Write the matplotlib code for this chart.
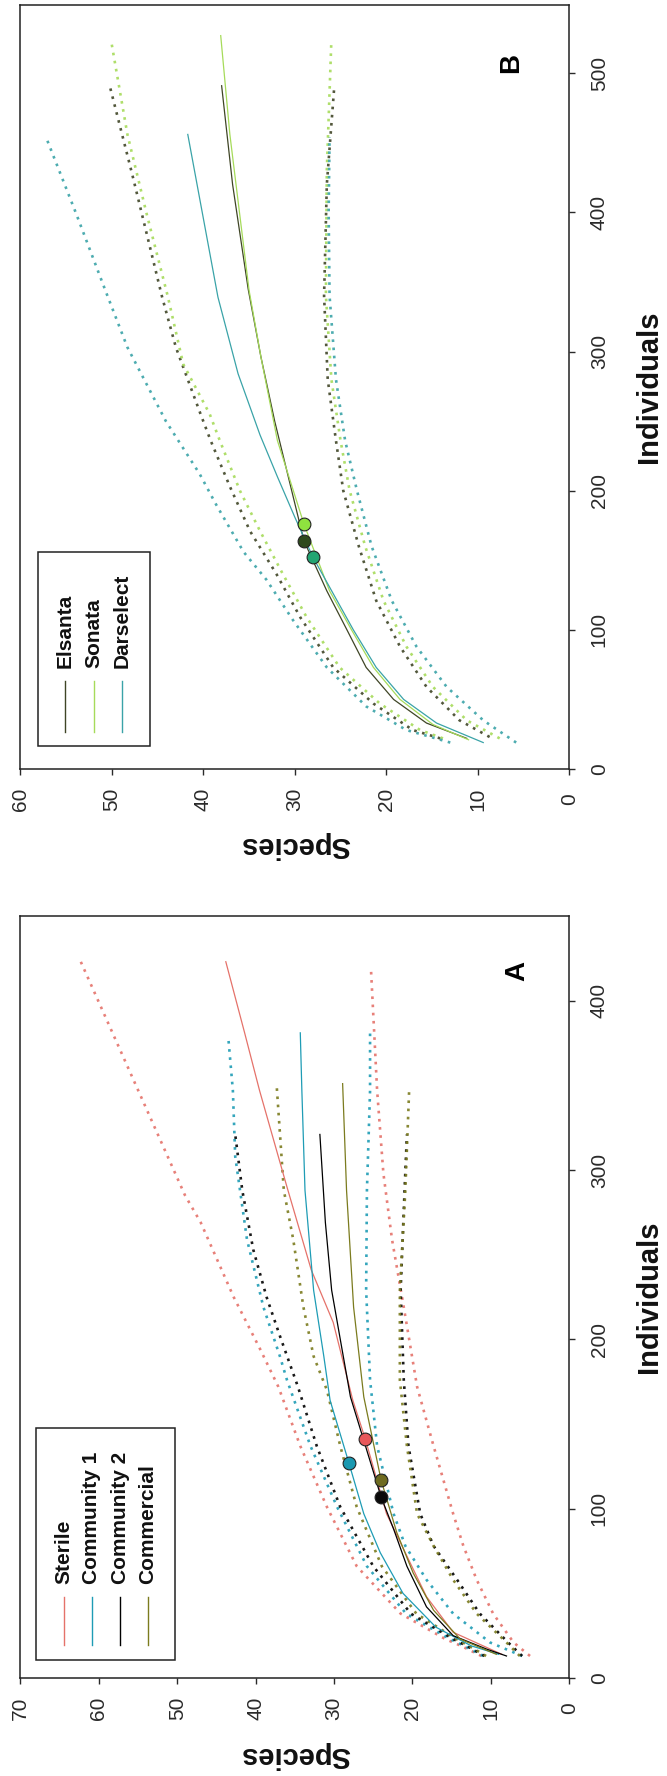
import matplotlib
matplotlib.use('Agg')
import matplotlib.pyplot as plt
from matplotlib.patches import Rectangle
from matplotlib.lines import Line2D

plt.rcParams['font.family'] = ['Liberation Sans', 'DejaVu Sans']

# ---- panel A: (individuals, species) ----
sterile_est = [(14, 8.6), (27, 14.8), (48, 18.2), (72, 20.7), (97, 23.3), (141, 26.0), (164, 27.6),
               (210, 30.1), (241, 32.9), (290, 36.0), (347, 39.5), (381, 41.4), (423, 43.8)]
sterile_hi = [(13, 11.2), (19, 13.8), (23, 15.8), (38, 21.5), (66, 27.1), (101, 30.9), (137, 34.3),
              (172, 37.1), (194, 39.4), (225, 42.8), (269, 47.0), (285, 49.0), (423, 62.3)]
sterile_lo = [(13, 5.0), (21, 7.1), (38, 9.7), (58, 11.8), (78, 13.5), (97, 14.8), (137, 17.3),
              (172, 19.4), (219, 21.1), (259, 22.6), (298, 23.7), (347, 24.5), (420, 25.3)]
sterile_obs = (141, 26.0)

comm1_est = [(14, 9.0), (19, 12.5), (30, 17.0), (50, 21.2), (74, 24.1), (97, 26.2), (127, 28.1),
             (164, 30.5), (190, 31.3), (229, 32.6), (288, 33.7), (347, 34.1), (381, 34.3)]
comm1_hi = [(13, 11.0), (19, 13.4), (23, 15.2), (38, 20.8), (66, 25.8), (101, 29.6), (137, 33.0),
            (176, 36.0), (190, 36.9), (219, 39.0), (259, 41.1), (308, 42.6), (347, 42.9), (379, 43.5)]
comm1_lo = [(13, 6.0), (21, 10.1), (38, 14.8), (58, 18.2), (78, 20.9), (97, 22.4), (137, 24.5),
            (176, 25.4), (229, 25.9), (288, 25.8), (347, 25.4), (381, 25.4)]
comm1_obs = (127, 28.1)

comm2_est = [(13, 8.0), (17, 10.5), (25, 14.8), (42, 18.2), (66, 20.7), (88, 22.4), (107, 24.0),
             (166, 27.9), (200, 29.2), (229, 30.3), (269, 31.1), (321, 31.8)]
comm2_hi = [(13, 10.8), (19, 13.1), (23, 14.8), (38, 20.2), (66, 25.0), (101, 29.2), (137, 32.2),
            (172, 34.6), (202, 36.9), (225, 38.6), (253, 40.3), (288, 41.7), (321, 42.6)]
comm2_lo = [(13, 6.0), (21, 7.8), (38, 11.4), (58, 14.3), (78, 17.3), (97, 19.0), (137, 20.5),
            (176, 21.1), (229, 21.5), (288, 21.0), (321, 20.7)]
comm2_obs = (107, 24.0)

commercial_est = [(14, 9.3), (23, 13.9), (40, 17.3), (62, 19.9), (86, 22.0), (117, 24.0),
                  (166, 26.2), (219, 27.5), (288, 28.4), (351, 28.9)]
commercial_hi = [(13, 10.6), (19, 12.8), (23, 14.4), (38, 19.5), (66, 23.9), (101, 27.1), (137, 29.2),
                 (170, 30.9), (190, 32.6), (219, 33.9), (259, 35.2), (288, 36.4), (349, 37.3)]
commercial_lo = [(13, 6.3), (21, 8.0), (38, 11.8), (58, 14.8), (78, 17.3), (97, 19.4), (137, 20.7),
                 (176, 21.6), (229, 21.6), (288, 20.9), (349, 20.4)]
commercial_obs = (117, 24.0)

# ---- panel B ----
elsanta_est = [(22, 11.2), (33, 15.6), (50, 19.2), (73, 22.2), (100, 24.3), (128, 26.5), (164, 29.0),
               (207, 30.6), (250, 32.2), (296, 33.7), (345, 35.1), (420, 36.8), (491, 38.0)]
elsanta_hi = [(22, 14.1), (28, 17.1), (47, 21.4), (73, 25.8), (109, 29.4), (140, 32.0), (171, 34.9),
              (203, 37.1), (236, 39.2), (255, 40.3), (303, 43.0), (339, 44.5), (428, 47.8), (490, 50.2)]
elsanta_lo = [(23, 8.7), (35, 12.0), (59, 15.6), (88, 18.5), (121, 21.1), (160, 23.0), (200, 24.7),
              (236, 25.5), (280, 26.4), (340, 26.8), (420, 26.5), (489, 25.7)]
elsanta_obs = (164, 29.0)

sonata_est = [(21, 11.0), (32, 14.9), (50, 18.5), (73, 21.4), (100, 23.8), (128, 26.2), (176, 29.0),
              (236, 31.9), (296, 33.7), (344, 35.0), (456, 37.1), (527, 38.1)]
sonata_hi = [(22, 13.8), (28, 16.3), (47, 20.7), (73, 25.1), (109, 28.7), (140, 31.3), (171, 33.8),
             (200, 36.0), (236, 38.2), (255, 39.3), (291, 42.2), (340, 43.9), (399, 46.2), (456, 48.3),
             (524, 50.1)]
sonata_lo = [(22, 7.6), (35, 11.2), (59, 14.9), (88, 17.8), (121, 20.3), (160, 22.3), (200, 24.0),
             (236, 25.0), (280, 26.0), (340, 26.6), (430, 26.5), (524, 26.0)]
sonata_obs = (176, 29.0)

darselect_est = [(19, 9.4), (33, 14.5), (50, 18.1), (73, 21.1), (100, 23.6), (126, 25.8), (152, 28.0),
                 (181, 30.0), (210, 31.9), (240, 33.8), (284, 36.2), (339, 38.4), (456, 41.7)]
darselect_hi = [(19, 13.0), (28, 17.8), (45, 22.2), (73, 26.5), (107, 30.2), (136, 33.1), (156, 35.6),
                (190, 38.6), (212, 40.4), (250, 44.1), (303, 48.3), (342, 50.6), (399, 53.9), (454, 57.2)]
darselect_lo = [(19, 5.8), (35, 9.4), (59, 13.4), (88, 16.7), (121, 19.4), (160, 21.6), (200, 23.2),
                (236, 24.5), (280, 25.5), (340, 26.2), (400, 26.3), (454, 26.2)]
darselect_obs = (152, 28.0)

labels_A = ['Sterile', 'Community 1', 'Community 2', 'Commercial']
labels_B = ['Elsanta', 'Sonata', 'Darselect']

W, H = 667, 1776
fig = plt.figure(figsize=(W / 100, H / 100), dpi=100)


def fx(px):
    return px / W


def fy(py):
    return 1 - py / H


def sp(pts):  # species goes on x, individuals on y (figure is turned)
    return [p[1] for p in pts], [p[0] for p in pts]


def panel(box, series, smax, nmax, nticks):
    ax = fig.add_axes([fx(box[0]), fy(box[3]), (box[2] - box[0]) / W, (box[3] - box[1]) / H])
    for est, lo, hi, obs, col, pcol in series:
        for ci in (lo, hi):
            ax.plot(*sp(ci), color=col, lw=1.9, ls=(0, (1, 2.1)), alpha=0.9, zorder=2)
    for est, lo, hi, obs, col, pcol in series:
        ax.plot(*sp(est), color=col, lw=0.9, zorder=3)
    for est, lo, hi, obs, col, pcol in series:
        ax.plot(obs[1], obs[0], 'o', ms=9.2, mfc=pcol, mec='#222222', mew=0.8, zorder=4)
    ax.set_xlim(smax, 0)
    ax.set_ylim(0, nmax)
    ax.yaxis.tick_right()
    st = list(range(0, smax + 1, 10))
    ax.set_xticks(st, labels=[str(s) for s in st], rotation=90, va='center', ha='center')
    ax.set_yticks(nticks, labels=[str(n) for n in nticks], rotation=90, ha='center', va='center')
    ax.tick_params(axis='both', length=4.2, width=1.0, labelsize=15, pad=17.5, colors='#2a2a2a')
    for s in ax.spines.values():
        s.set_linewidth(1.1)
        s.set_color('#222222')
    return ax


def legend(box, labels, cols, xs, line_y, text_y):
    fig.add_artist(Rectangle((fx(box[0]), fy(box[3])), (box[2] - box[0]) / W, (box[3] - box[1]) / H,
                             transform=fig.transFigure, fill=False, lw=1.1, ec='#222222'))
    for lab, c, x in zip(labels, cols, xs):
        fig.add_artist(Line2D([fx(x), fx(x)], [fy(line_y[0]), fy(line_y[1])], color=c, lw=1.0,
                              transform=fig.transFigure))
        fig.text(fx(x), fy(text_y), lab, rotation=90, ha='center', va='bottom', fontsize=15,
                 fontweight='bold', color='#111111')


colsA = ['#E5726A', '#1E9CB5', '#000000', '#7B7B1E']
ptsA = ['#E8575A', '#1A98B0', '#0A0A0A', '#6E6B20']
colsB = ['#3F4526', '#A6DB5A', '#3AA3A8']
ptsB = ['#2E4A1C', '#8FE23F', '#22A572']

panel((20.4, 5, 569.2, 769),
      [(elsanta_est, elsanta_lo, elsanta_hi, elsanta_obs, colsB[0], ptsB[0]),
       (sonata_est, sonata_lo, sonata_hi, sonata_obs, colsB[1], ptsB[1]),
       (darselect_est, darselect_lo, darselect_hi, darselect_obs, colsB[2], ptsB[2])],
      60, 549, [0, 100, 200, 300, 400, 500])
panel((20.4, 916, 569.2, 1678),
      [(sterile_est, sterile_lo, sterile_hi, sterile_obs, colsA[0], ptsA[0]),
       (comm1_est, comm1_lo, comm1_hi, comm1_obs, colsA[1], ptsA[1]),
       (comm2_est, comm2_lo, comm2_hi, comm2_obs, colsA[2], ptsA[2]),
       (commercial_est, commercial_lo, commercial_hi, commercial_obs, colsA[3], ptsA[3])],
      70, 450, [0, 100, 200, 300, 400])

legend((38.3, 551.7, 149.7, 745.7), labels_B, colsB, [65, 93.6, 122], (681, 732), 668)
legend((36.2, 1428.3, 175.2, 1660), labels_A, colsA, [63.8, 91.5, 120.4, 148], (1597, 1645), 1584)

for yc in (387, 1297):
    fig.text(fx(649), fy(yc), 'Individuals', rotation=90, ha='center', va='center',
             fontsize=21, fontweight='bold', color='#111111')
for yc in (845, 1755):
    fig.text(fx(294.8), fy(yc), 'Species', rotation=180, ha='center', va='center',
             fontsize=21, fontweight='bold', color='#111111')
fig.text(fx(511), fy(63), 'B', rotation=90, ha='center', va='center', fontsize=20, fontweight='bold')
fig.text(fx(517), fy(971), 'A', rotation=90, ha='center', va='center', fontsize=20, fontweight='bold')

fig.savefig('out.png', dpi=100)
